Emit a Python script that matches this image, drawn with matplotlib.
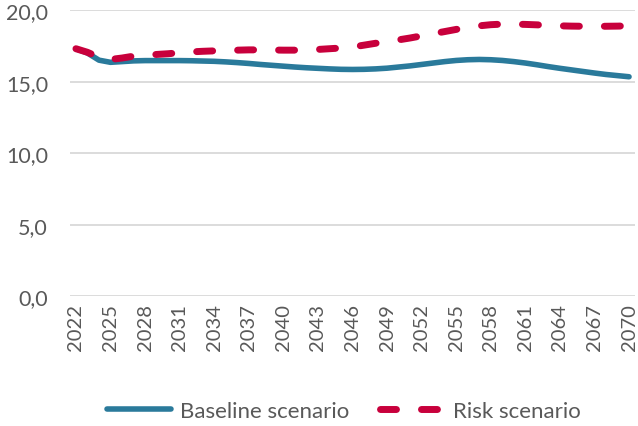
import numpy as np
import matplotlib.pyplot as plt

years = list(range(2022, 2071))

baseline = [17.3, 17.0, 16.5, 16.35, 16.4, 16.45, 16.47, 16.47, 16.47, 16.47,
            16.46, 16.44, 16.42, 16.38, 16.33, 16.27, 16.2, 16.14, 16.08, 16.02,
            15.97, 15.93, 15.89, 15.86, 15.85, 15.86, 15.89, 15.94, 16.02, 16.1,
            16.2, 16.3, 16.4, 16.48, 16.53, 16.55, 16.53, 16.48, 16.4, 16.3,
            16.18, 16.05, 15.93, 15.82, 15.71, 15.6, 15.5, 15.42, 15.34]

risk = [17.3, 17.05, 16.7, 16.55, 16.65, 16.78, 16.85, 16.9, 16.95, 17.02,
        17.08, 17.12, 17.15, 17.18, 17.2, 17.22, 17.22, 17.21, 17.2, 17.2,
        17.21, 17.25, 17.3, 17.35, 17.42, 17.55, 17.68, 17.8, 17.92, 18.05,
        18.2, 18.35, 18.5, 18.65, 18.8, 18.9, 18.98, 19.02, 19.02, 19.0,
        18.97, 18.93, 18.9, 18.88, 18.87, 18.86, 18.87, 18.88, 18.9]

xticks = list(range(2022, 2071, 3))
yticks = [0, 5, 10, 15, 20]

blue = '#2a7a9b'
red = '#c8003c'
grey = '#595959'

plt.rcParams['font.family'] = ['Lato', 'DejaVu Sans']

fig = plt.figure(figsize=(6.38, 4.27), dpi=100)
ax = fig.add_axes([0.11, 0.304, 0.885, 0.67])

ax.plot(years, baseline, color=blue, lw=4.0, solid_capstyle='round',
        label='Baseline scenario', zorder=3)
ax.plot(years, risk, color=red, lw=5.0, dashes=(2.3, 3.6), dash_capstyle='round',
        label='Risk scenario', zorder=4)

ax.set_xlim(2021.5, 2070.5)
ax.set_ylim(0, 20)
ax.set_xticks(xticks)
ax.set_xticklabels([str(y) for y in xticks], rotation=90)
ax.set_yticks(yticks)
ax.set_yticklabels([f'{v:.1f}'.replace('.', ',') for v in yticks])
ax.tick_params(axis='x', length=0, labelsize=14.5, colors=grey, pad=5)
ax.tick_params(axis='y', length=0, labelsize=15.5, colors=grey, pad=16)

ax.grid(axis='y', color='#d9d9d9', lw=1.3)
ax.set_axisbelow(True)
for s in ax.spines.values():
    s.set_visible(False)

fig.legend(loc='center', bbox_to_anchor=(0.539, 0.035), ncol=2, frameon=False,
           fontsize=16, handlelength=2.9, handletextpad=0.4,
           columnspacing=1.35, labelcolor=grey)

fig.savefig('out.png', dpi=100)
